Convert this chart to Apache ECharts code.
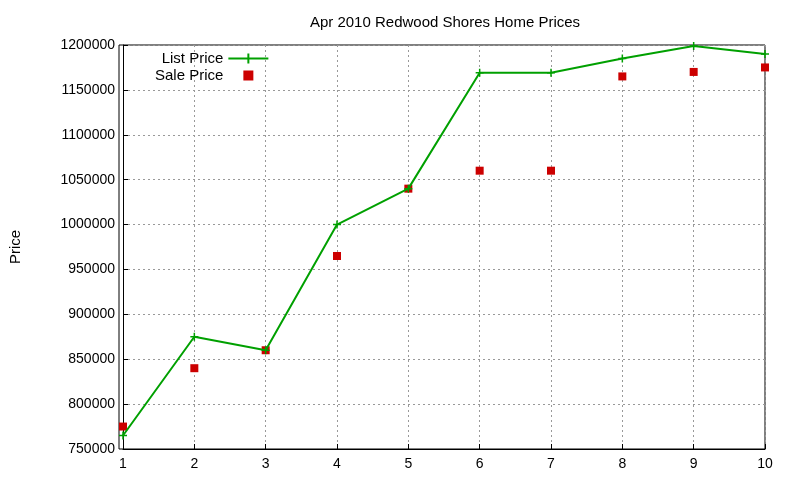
<!DOCTYPE html>
<html><head><meta charset="utf-8">
<script src="https://cdn.jsdelivr.net/npm/echarts@6/dist/echarts.min.js"></script>
<style>html,body{margin:0;padding:0;background:#fff}#c{width:800px;height:480px}</style>
</head><body><div id="c"></div>
<script>
const categories = [1,2,3,4,5,6,7,8,9,10];
const listPrice = [765000,875000,860000,1000000,1040000,1169000,1169000,1185000,1199000,1190000];
const salePrice = [775000,840000,860000,965000,1040000,1060000,1060000,1165000,1170000,1175000];
const chart = echarts.init(document.getElementById('c'));
const font = 'Liberation Sans';
chart.setOption({
  animation:false,
  title:{text:'Apr 2010 Redwood Shores Home Prices',left:440,top:10,textAlign:'center',textStyle:{fontFamily:font,fontSize:15,fontWeight:'normal',color:'#000'}},
  legend:{left:150,top:46,orient:'vertical',align:'right',itemGap:2,itemWidth:40,itemHeight:10,
    textStyle:{fontFamily:font,fontSize:15,color:'#000'},
    data:[{name:'List Price',icon:'path://M0,5L40,5M20,0L20,10'},
          {name:'Sale Price',icon:'path://M16,1L24,1L24,9L16,9Z',itemStyle:{color:'#cc0000'}}]},
  grid:{left:119,right:35,top:45,bottom:31},
  xAxis:{type:'value',min:1,max:10,interval:1,
    axisLine:{show:true,onZero:false,lineStyle:{color:'#000'}},
    axisTick:{inside:true,lineStyle:{color:'#000'}},
    axisLabel:{fontFamily:font,fontSize:14,color:'#000'},
    splitLine:{show:true,lineStyle:{type:[2,3],color:'#999'}}},
  yAxis:{type:'value',min:750000,max:1200000,interval:50000,name:'Price',nameLocation:'middle',nameGap:100,
    nameTextStyle:{fontFamily:font,fontSize:15,color:'#000'},
    axisLine:{show:true,lineStyle:{color:'#000'}},
    axisTick:{inside:true,lineStyle:{color:'#000'}},
    axisLabel:{fontFamily:font,fontSize:14,color:'#000',formatter:v=>String(v)},
    splitLine:{show:true,lineStyle:{type:[2,3],color:'#999'}}},
  series:[
    {name:'List Price',type:'line',data:categories.map((c,i)=>[c,listPrice[i]]),
     symbol:'path://M0,5L10,5M5,0L5,10',symbolSize:8,
     lineStyle:{color:'#00a000',width:2},itemStyle:{color:'#00a000',borderColor:'#00a000',borderWidth:1.5}},
    {name:'Sale Price',type:'scatter',data:categories.map((c,i)=>[c,salePrice[i]]),
     symbol:'rect',symbolSize:8,itemStyle:{color:'#cc0000',opacity:1}}
  ],
  graphic:[{type:'rect',shape:{x:119,y:45,width:646,height:404},style:{fill:'none',stroke:'#000',lineWidth:1},silent:true}]
});
</script></body></html>
